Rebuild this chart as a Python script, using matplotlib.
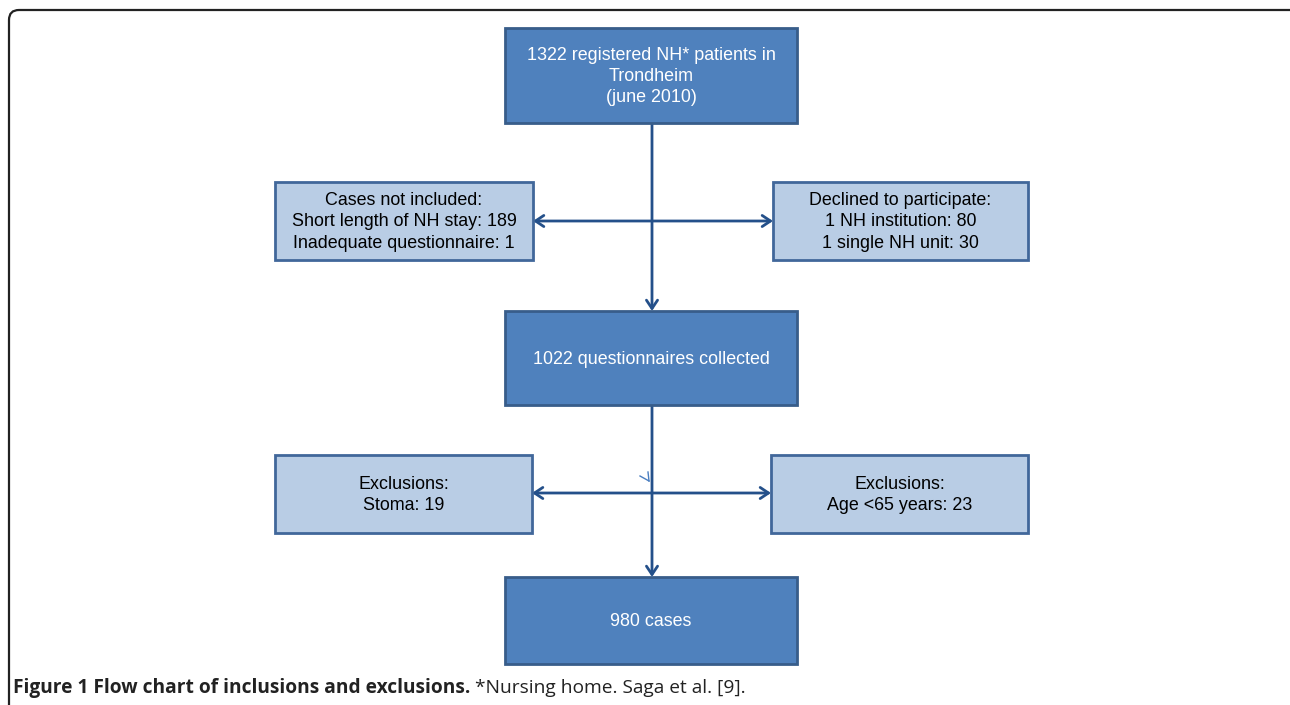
import matplotlib
matplotlib.use("Agg")
import matplotlib.pyplot as plt
from matplotlib.patches import Rectangle, FancyArrowPatch
from matplotlib.path import Path
from matplotlib.patches import PathPatch

# ---- content ----
main_texts = [
    "1322 registered NH* patients in\nTrondheim\n(june 2010)",
    "1022 questionnaires collected",
    "980 cases",
]
side_left_texts = [
    "Cases not included:\nShort length of NH stay: 189\nInadequate questionnaire: 1",
    "Exclusions:\nStoma: 19",
]
side_right_texts = [
    "Declined to participate:\n1 NH institution: 80\n1 single NH unit: 30",
    "Exclusions:\nAge <65 years: 23",
]
caption_bold = "Figure 1 Flow chart of inclusions and exclusions."
caption_rest = " *Nursing home. Saga et al. [9]."

# ---- layout (pixel coordinates) ----
W, H = 1290, 705
main_boxes = [(505, 28, 797, 123), (505, 311, 797, 405), (505, 577, 797, 664)]
left_boxes = [(275, 182, 533, 260), (275, 455, 532, 533)]
right_boxes = [(773, 182, 1028, 260), (771, 455, 1028, 533)]
branch_y = [221, 493]

dark_fill = "#4F81BD"
dark_edge = "#385D8A"
light_fill = "#B9CDE5"
light_edge = "#41679A"
line_col = "#24508A"

fig = plt.figure(figsize=(W / 100, H / 100), dpi=100)
ax = fig.add_axes([0, 0, 1, 1])
ax.set_xlim(0, W)
ax.set_ylim(H, 0)
ax.axis("off")

# outer frame (top + left with rounded corner)
r = 10
verts = [(W + 5, 10), (9 + r, 10), (9, 10), (9, 10 + r), (9, H + 5)]
codes = [Path.MOVETO, Path.LINETO, Path.CURVE3, Path.CURVE3, Path.LINETO]
ax.add_patch(PathPatch(Path(verts, codes), fill=False, edgecolor="#222222", lw=1.6))

def box(b, fill, edge, text, color):
    x0, y0, x1, y1 = b
    ax.add_patch(Rectangle((x0, y0), x1 - x0, y1 - y0, facecolor=fill,
                           edgecolor=edge, lw=2.0, zorder=3))
    ax.text((x0 + x1) / 2, (y0 + y1) / 2 + 1, text, ha="center", va="center",
            fontsize=12.9, family="Liberation Sans", color=color,
            linespacing=1.33, zorder=4)

for b, t in zip(main_boxes, main_texts):
    box(b, dark_fill, dark_edge, t, "white")
for b, t in zip(left_boxes, side_left_texts):
    box(b, light_fill, light_edge, t, "black")
for b, t in zip(right_boxes, side_right_texts):
    box(b, light_fill, light_edge, t, "black")

cx = 652
def arrow(p0, p1):
    a = FancyArrowPatch(p0, p1, arrowstyle="->,head_length=6,head_width=4",
                        color=line_col, lw=2.0, shrinkA=0, shrinkB=0,
                        mutation_scale=1, zorder=2)
    ax.add_patch(a)

for i in range(2):
    top = main_boxes[i][3]
    bot = main_boxes[i + 1][1]
    arrow((cx, top), (cx, bot))
    yb = branch_y[i]
    arrow((cx, yb), (left_boxes[i][2], yb))
    arrow((cx, yb), (right_boxes[i][0], yb))

# small stray arrow mark
ax.plot([640, 649], [476, 481], color="#4A7EC0", lw=1.0, zorder=2)
ax.plot([648, 649], [472, 481], color="#4A7EC0", lw=1.0, zorder=2)

# caption
fig.canvas.draw()
rend = fig.canvas.get_renderer()
tb = ax.text(13, 688, caption_bold, ha="left", va="center", fontsize=13.75,
             family="Open Sans", fontweight="bold", color="#222222")
ext = tb.get_window_extent(renderer=rend)
x_end = ax.transData.inverted().transform((ext.x1, ext.y0))[0]
ax.text(x_end, 688, caption_rest, ha="left", va="center", fontsize=13.75,
        family="Open Sans", color="#222222")

fig.savefig("out.png", dpi=100)
